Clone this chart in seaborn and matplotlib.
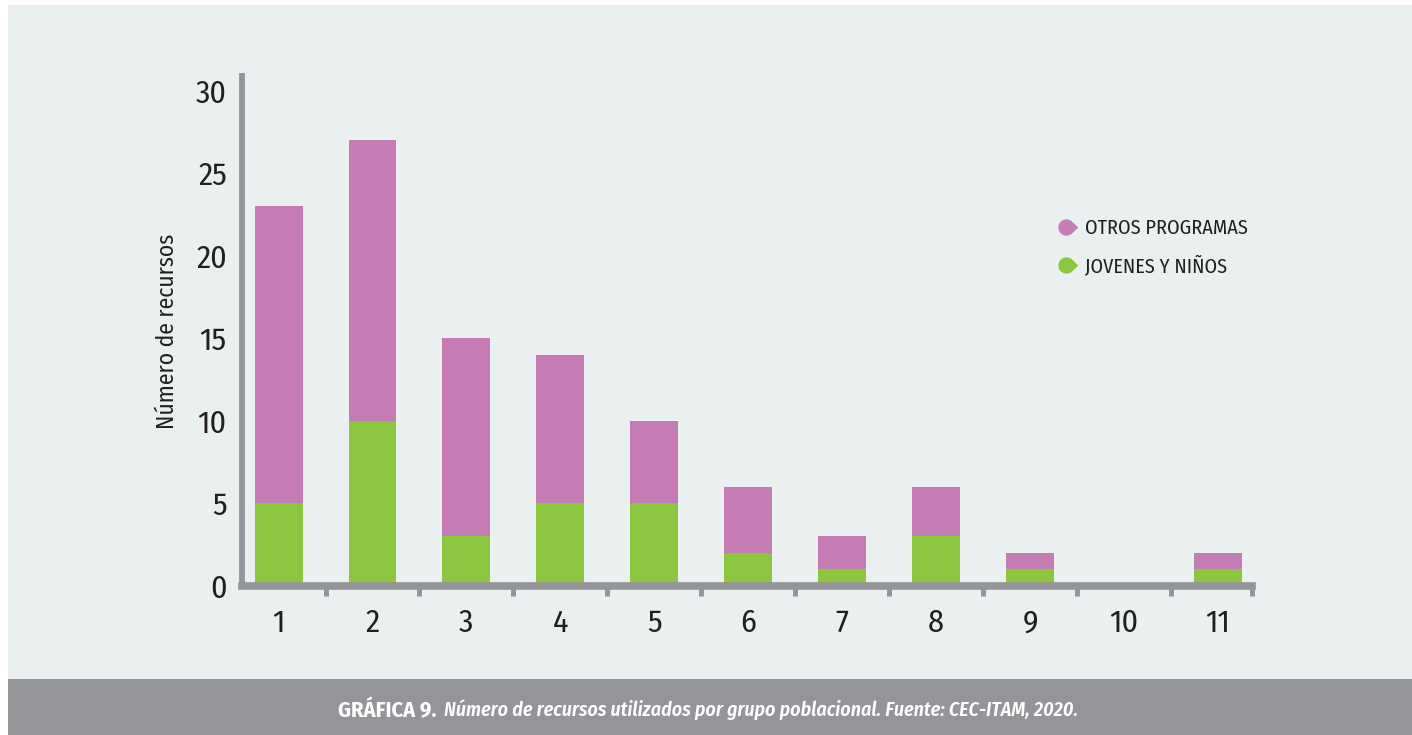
import matplotlib
matplotlib.use("Agg")
import matplotlib.pyplot as plt
import matplotlib.path as mpath
from matplotlib import font_manager
from matplotlib.lines import Line2D
from matplotlib.patches import Rectangle
from matplotlib.ticker import FixedLocator
import numpy as np
import seaborn as sns

# Data: resources used per population group
categories = ["1", "2", "3", "4", "5", "6", "7", "8", "9", "10", "11"]
jovenes_ninos = [5, 10, 3, 5, 5, 2, 1, 3, 1, 0, 1]
otros_programas = [18, 17, 12, 9, 5, 4, 2, 3, 1, 0, 1]
y_ticks = [0, 5, 10, 15, 20, 25, 30]
series_labels = ["OTROS PROGRAMAS", "JOVENES Y NIÑOS"]
y_label = "Número de recursos"
caption_head = "GRÁFICA 9."
caption_body = "Número de recursos utilizados por grupo poblacional. Fuente: CEC-ITAM, 2020."

PINK = "#C57BB3"
GREEN = "#8CC63F"
PANEL = "#EAF0F0"
GREY = "#939598"
INK = "#231F20"

sns.set_theme(style="white")
available = {f.name for f in font_manager.fontManager.ttflist}
for fam in ["Fira Sans Condensed", "PT Sans Narrow", "Roboto Condensed",
            "Open Sans Condensed", "Liberation Sans Narrow"]:
    if fam in available:
        break
else:
    fam = "DejaVu Sans"
plt.rcParams["font.family"] = [fam, "DejaVu Sans"]

W, H = 1412, 735
fig = plt.figure(figsize=(W / 100, H / 100), dpi=100, facecolor="white")

# Light panel and grey caption band
fig.patches.append(Rectangle((8 / W, 56 / H), 1 - 8 / W, 1 - 5 / H - 56 / H,
                             transform=fig.transFigure, facecolor=PANEL,
                             edgecolor="none", zorder=-2))
fig.patches.append(Rectangle((8 / W, 0), 1 - 8 / W, 56 / H,
                             transform=fig.transFigure, facecolor=GREY,
                             edgecolor="none", zorder=-2))

ax = fig.add_axes([242 / W, 149 / H, (1252 - 242) / W, 510 / H])
ax.set_facecolor("none")

# Stacked bars: full height in pink, the young-people share in green on top
totals = [j + o for j, o in zip(jovenes_ninos, otros_programas)]
sns.barplot(x=categories, y=totals, order=categories, color=PINK,
            saturation=1, width=0.51, linewidth=0, ax=ax, zorder=2)
sns.barplot(x=categories, y=jovenes_ninos, order=categories, color=GREEN,
            saturation=1, width=0.51, linewidth=0, ax=ax, zorder=2)

ax.set_xlim(-0.389, 10.362)
ax.set_ylim(0, 30.9)
ax.set_yticks(y_ticks)
ax.set_yticklabels([str(v) for v in y_ticks])
ax.set_xlabel("")

# Separator ticks between categories and at the end of the axis
ax.xaxis.set_minor_locator(FixedLocator(list(np.arange(0.5, 10, 1.0)) + [10.362]))
ax.tick_params(axis="x", which="minor", bottom=True, length=7, width=3.6,
               color=GREY, direction="out")
ax.tick_params(axis="x", which="major", length=0, pad=16, labelsize=23,
               labelcolor=INK)
ax.tick_params(axis="y", which="major", left=False, length=0, pad=11,
               labelsize=23, labelcolor=INK)

for side in ("top", "right"):
    ax.spines[side].set_visible(False)
ax.spines["left"].set_color(GREY)
ax.spines["left"].set_linewidth(4.2)
ax.spines["bottom"].set_color(GREY)
ax.spines["bottom"].set_linewidth(5.5)

ax.set_ylabel(y_label, fontsize=17, color=INK)
ax.yaxis.set_label_coords(-0.063, 0.5)

# Drop-shaped legend markers
arc = mpath.Path.arc(45, 315)
verts = list(arc.vertices) + [(1.45, 0.0), tuple(arc.vertices[0])]
codes = list(arc.codes) + [mpath.Path.LINETO, mpath.Path.CLOSEPOLY]
drop = mpath.Path(verts, codes)

handles = [
    Line2D([], [], linestyle="none", marker=drop, markersize=17,
           markerfacecolor=PINK, markeredgecolor="none"),
    Line2D([], [], linestyle="none", marker=drop, markersize=17,
           markerfacecolor=GREEN, markeredgecolor="none"),
]
leg = fig.legend(handles, series_labels, loc="center left",
                 bbox_to_anchor=(1046 / W, 1 - 247 / H), frameon=False,
                 fontsize=14.5, handletextpad=0.35, labelspacing=0.85,
                 handlelength=1.2, borderaxespad=0)
for t in leg.get_texts():
    t.set_color(INK)

# Caption band text, both parts on one baseline
cy = 1 - 717 / H
fig.text(437 / W, cy, caption_head, ha="right", va="baseline", color="white",
         fontsize=16, fontweight="bold")
fig.text(444 / W, cy, caption_body, ha="left", va="baseline", color="white",
         fontsize=14.3, fontweight=600, fontstyle="italic")

fig.savefig("out.png", dpi=100, facecolor="white")
